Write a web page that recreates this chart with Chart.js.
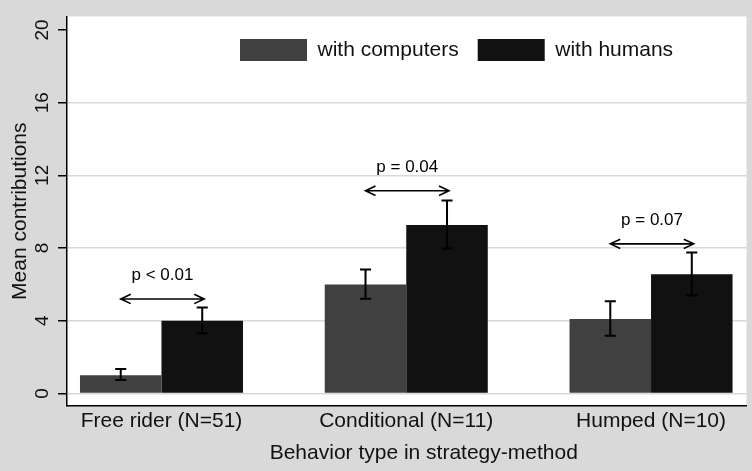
<!DOCTYPE html>
<html><head><meta charset="utf-8">
<script src="https://cdn.jsdelivr.net/npm/chart.js@4/dist/chart.umd.min.js"></script>
<style>html,body{margin:0;padding:0;background:#d9d9d9;overflow:hidden}</style>
</head><body>
<canvas id="c" width="752" height="471"></canvas>
<script>
const categories = ['Free rider (N=51)', 'Conditional (N=11)', 'Humped (N=10)'];
const seriesNames = ['with computers', 'with humans'];
const computersMean = [1.0, 6.0, 4.1];
const computersLow = [0.74, 5.21, 3.17];
const computersHigh = [1.35, 6.82, 5.07];
const humansMean = [4.0, 9.27, 6.56];
const humansLow = [3.31, 7.98, 5.39];
const humansHigh = [4.73, 10.62, 7.75];
const pLabels = ['p < 0.01', 'p = 0.04', 'p = 0.07'];
const arrowY = [5.2, 11.15, 8.23];
const pLabelY = [6.5, 12.45, 9.52];
const yTicks = [0, 4, 8, 12, 16, 20];

const FONT = "'Liberation Sans', Arial, Helvetica, sans-serif";

const bgPlugin = {
  id: 'bg',
  beforeDraw(chart) {
    const {ctx, chartArea: a} = chart;
    ctx.save();
    ctx.fillStyle = '#d9d9d9';
    ctx.fillRect(0, 0, chart.width, chart.height);
    ctx.fillStyle = '#ffffff';
    ctx.fillRect(a.left, a.top, a.right - a.left, a.bottom - a.top);
    ctx.restore();
  }
};

const layoutTweaks = {
  id: 'layoutTweaks',
  beforeLayout(chart) {
    chart.legend.position = 'chartArea';
  },
  afterLayout(chart) {
    const lg = chart.legend;
    const a = chart.chartArea;
    const pad = lg.options.labels.padding;
    lg.left = 240 - pad;
    lg.right = a.right;
    lg.width = lg.right - lg.left;
    lg.top = 39 - pad;
    lg.bottom = lg.top + lg.height;
    const t = chart.scales.xTitle;
    t.left += 17; t.right += 17;
  }
};

const overlay = {
  id: 'overlay',
  afterDatasetsDraw(chart) {
    const ctx = chart.ctx, ys = chart.scales.y;
    const lows = [computersLow, humansLow], highs = [computersHigh, humansHigh];
    ctx.save();
    ctx.strokeStyle = '#000';
    ctx.lineWidth = 2;
    [0, 1].forEach(d => {
      chart.getDatasetMeta(d).data.forEach((bar, i) => {
        const x = bar.x, hw = bar.width * 0.068;
        const yl = ys.getPixelForValue(lows[d][i]), yh = ys.getPixelForValue(highs[d][i]);
        ctx.beginPath();
        ctx.moveTo(x, yl); ctx.lineTo(x, yh);
        ctx.moveTo(x - hw, yl); ctx.lineTo(x + hw, yl);
        ctx.moveTo(x - hw, yh); ctx.lineTo(x + hw, yh);
        ctx.stroke();
      });
    });
    const m0 = chart.getDatasetMeta(0).data, m1 = chart.getDatasetMeta(1).data;
    ctx.lineWidth = 1.6;
    ctx.fillStyle = '#000';
    ctx.font = '17px ' + FONT;
    ctx.textAlign = 'center';
    ctx.textBaseline = 'middle';
    pLabels.forEach((lab, i) => {
      const x1 = m0[i].x, x2 = m1[i].x + 2;
      const y = ys.getPixelForValue(arrowY[i]);
      ctx.beginPath();
      ctx.moveTo(x1, y); ctx.lineTo(x2, y);
      ctx.moveTo(x1 + 10, y - 4.7); ctx.lineTo(x1, y); ctx.lineTo(x1 + 10, y + 4.7);
      ctx.moveTo(x2 - 10, y - 4.7); ctx.lineTo(x2, y); ctx.lineTo(x2 - 10, y + 4.7);
      ctx.stroke();
      ctx.fillText(lab, (x1 + x2) / 2, ys.getPixelForValue(pLabelY[i]));
    });
    ctx.restore();
  }
};

new Chart(document.getElementById('c'), {
  type: 'bar',
  data: {
    datasets: [
      { label: seriesNames[0], data: categories.map((c, i) => ({x: i + 1, y: computersMean[i]})),
        backgroundColor: '#404040', borderWidth: 0 },
      { label: seriesNames[1], data: categories.map((c, i) => ({x: i + 1, y: humansMean[i]})),
        backgroundColor: '#111111', borderWidth: 0 }
    ]
  },
  options: {
    responsive: false,
    animation: false,
    devicePixelRatio: 1,
    categoryPercentage: 0.666,
    barPercentage: 1.0,
    layout: { padding: { top: 3, right: 5.5, left: 0, bottom: 0 } },
    plugins: {
      legend: {
        position: 'top',
        align: 'start',
        labels: {
          boxWidth: 67, boxHeight: 22, padding: 19, color: '#111',
          font: { family: FONT, size: 21 }
        }
      },
      tooltip: { enabled: false }
    },
    scales: {
      x: {
        type: 'linear',
        min: 0.614, max: 3.39,
        offset: false,
        afterBuildTicks(s) { s.ticks = categories.map((c, i) => ({value: i + 1})); },
        afterFit(s) { s.height = 40; },
        grid: { display: false, drawTicks: false, offset: false },
        border: { display: true, color: '#000', width: 1.5 },
        ticks: {
          autoSkip: false, maxRotation: 0, padding: 3, color: '#111',
          font: { family: FONT, size: 21 },
          callback: (v) => categories[Math.round(v) - 1] || ''
        }
      },
      xTitle: {
        type: 'linear', axis: 'x', position: 'bottom',
        min: 0.614, max: 3.39,
        afterBuildTicks(s) { s.ticks = []; },
        afterFit(s) { s.height = 25; },
        grid: { display: false, drawTicks: false },
        border: { display: false },
        ticks: { display: false },
        title: {
          display: true, text: 'Behavior type in strategy-method', color: '#111',
          font: { family: FONT, size: 21 }, padding: { top: 0, bottom: 5 }
        }
      },
      y: {
        min: -0.691, max: 20.745,
        afterBuildTicks(s) { s.ticks = yTicks.map(v => ({value: v})); },
        afterFit(s) { s.width = 67; },
        grid: {
          color: (c) => (c.tick && c.tick.value === 20) ? 'rgba(0,0,0,0)' : '#d8d8d8',
          lineWidth: 1.5, tickColor: '#000', tickLength: 9, drawTicks: true
        },
        border: { display: true, color: '#000', width: 1.5 },
        ticks: {
          minRotation: 90, maxRotation: 90, crossAlign: 'center', padding: 5,
          color: '#111', font: { family: FONT, size: 19 },
          callback: (v) => String(v)
        },
        title: {
          display: true, text: 'Mean contributions', color: '#111',
          font: { family: FONT, size: 21 }, padding: { top: 8, bottom: 0 }
        }
      }
    }
  },
  plugins: [bgPlugin, layoutTweaks, overlay]
});
</script>
</body></html>
